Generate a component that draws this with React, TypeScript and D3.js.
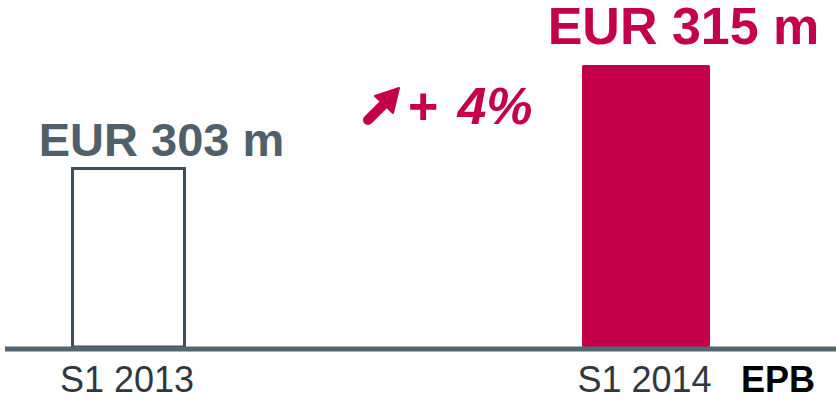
import React from "react";
import * as d3 from "d3";

const categories = ["S1 2013", "S1 2014"];
const values = [303, 315];
const valueLabels = ["EUR 303 m", "EUR 315 m"];
const changeSign = "+";
const changeValue = "4%";
const sourceLabel = "EPB";

const W = 836;
const H = 400;
const RED = "#c4004a";
const SLATE = "#4f606b";
const FONT = "'Liberation Sans', Arial, Helvetica, sans-serif";

export default function App() {
  const x = d3.scaleBand<string>().domain(categories).range([64.5, 710]).paddingInner(0.7527).paddingOuter(0);
  const y = d3.scaleLinear().domain([282.3, 315]).range([347, 65]);
  const bw = x.bandwidth();
  const baseY = y(282.3);

  const arrowShaft = d3.line()([[368, 120], [385, 103]]);

  return (
    <svg width={W} height={H} style={{ position: "absolute", left: 0, top: 0, background: "#fff" }} fontFamily={FONT}>
      {/* bar 1 outlined */}
      <rect
        x={(x(categories[0]) as number) + 8}
        y={y(values[0])}
        width={bw - 16}
        height={baseY - y(values[0])}
        fill="#fff"
        stroke="#414c55"
        strokeWidth={3}
      />
      {/* bar 2 filled */}
      <rect
        x={x(categories[1]) as number}
        y={y(values[1])}
        width={bw}
        height={baseY - y(values[1])}
        fill={RED}
        rx={1.5}
      />
      {/* baseline */}
      <line x1={5} x2={W} y1={baseY + 2} y2={baseY + 2} stroke="#536570" strokeWidth={5} />

      {/* value labels */}
      <text
        x={(x(categories[0]) as number) + bw / 2 + 33}
        y={y(values[0]) - 12}
        textAnchor="middle"
        fontSize={47}
        fontWeight="bold"
        fill={SLATE}
      >
        {valueLabels[0]}
      </text>
      <text
        x={(x(categories[1]) as number) + bw / 2 + 37.5}
        y={y(values[1]) - 21}
        textAnchor="middle"
        fontSize={52}
        fontWeight="bold"
        fill={RED}
      >
        {valueLabels[1]}
      </text>

      {/* category labels */}
      {categories.map((c) => (
        <text
          key={c}
          x={(x(c) as number) + bw / 2 - 1.5}
          y={392}
          textAnchor="middle"
          fontSize={36}
          fill="#2e383e"
        >
          {c}
        </text>
      ))}
      <text x={741} y={392} fontSize={36} fontWeight="bold" fill="#000">
        {sourceLabel}
      </text>

      {/* change indicator */}
      <path d={arrowShaft as string} stroke={RED} strokeWidth={10} strokeLinecap="round" fill="none" />
      <path d="M375,96 L399,88 L393,113 Z" fill={RED} stroke={RED} strokeWidth={2} strokeLinejoin="round" />
      <text x={407} y={124} fontSize={52} fontWeight="bold" fontStyle="italic" fill={RED}>
        <tspan>{changeSign}</tspan>
        <tspan dx={20}>{changeValue}</tspan>
      </text>
    </svg>
  );
}
